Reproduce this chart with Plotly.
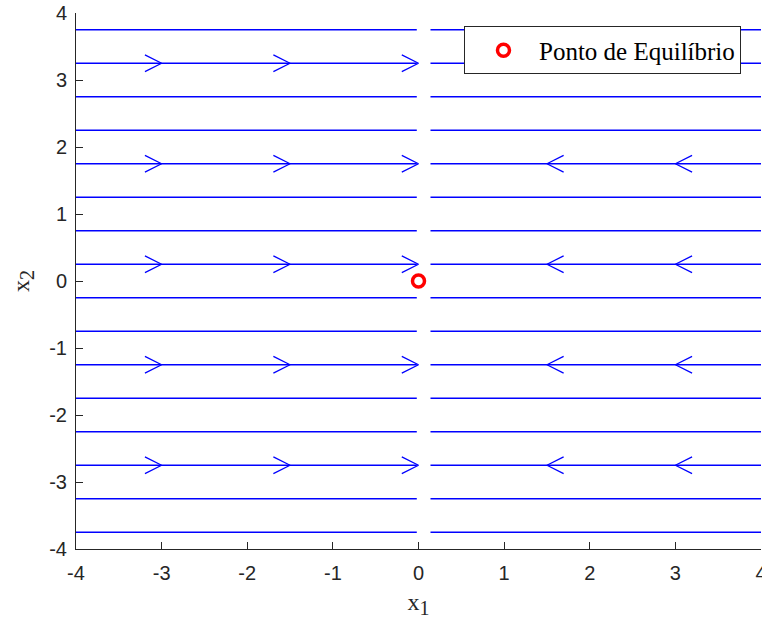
import plotly.graph_objects as go

# ---- data ----
stream_y = [-3.75, -3.25, -2.75, -2.25, -1.75, -1.25, -0.75, -0.25,
            0.25, 0.75, 1.25, 1.75, 2.25, 2.75, 3.25, 3.75]
left_x_range = [-4.0, -0.02]
right_x_range = [0.14, 4.0]
arrow_rows = [-2.75, -1.25, 0.25, 1.75, 3.25]
left_arrow_x = [-3.0, -1.5, 0.0]     # arrows pointing right
right_arrow_x = [1.5, 3.0]           # arrows pointing left
eq_x = [0]
eq_y = [0]
x_ticks = [-4, -3, -2, -1, 0, 1, 2, 3, 4]
y_ticks = [-4, -3, -2, -1, 0, 1, 2, 3, 4]

# ---- style ----
BLUE = "#0000ff"
AX = "#262626"
BARB_DX = 0.195
BARB_DY = 0.125
LW = 1.3

fig = go.Figure()

# streamlines
lx, ly = [], []
for y in stream_y:
    lx += [left_x_range[0], left_x_range[1], None, right_x_range[0], right_x_range[1], None]
    ly += [y, y, None, y, y, None]
fig.add_trace(go.Scatter(x=lx, y=ly, mode="lines", line=dict(color=BLUE, width=LW),
                         showlegend=False, hoverinfo="skip", cliponaxis=False))

# arrowheads
ax_, ay_ = [], []
for y in arrow_rows:
    for xt in left_arrow_x:
        ax_ += [xt - BARB_DX, xt, xt - BARB_DX, None]
        ay_ += [y + BARB_DY, y, y - BARB_DY, None]
    for xt in right_arrow_x:
        ax_ += [xt + BARB_DX, xt, xt + BARB_DX, None]
        ay_ += [y + BARB_DY, y, y - BARB_DY, None]
fig.add_trace(go.Scatter(x=ax_, y=ay_, mode="lines", line=dict(color=BLUE, width=LW),
                         showlegend=False, hoverinfo="skip"))

# equilibrium point
fig.add_trace(go.Scatter(x=eq_x, y=eq_y, mode="markers", name="Ponto de Equilíbrio",
                         marker=dict(symbol="circle-open", size=12, color="#ff0000",
                                     line=dict(width=3.5, color="#ff0000"))))

axis_common = dict(
    range=[-4, 4], showgrid=False, zeroline=False, showline=True, linecolor=AX,
    linewidth=1, ticks="inside", ticklen=7, tickcolor=AX, tickwidth=1,
    tickfont=dict(family="Liberation Sans, Arial", size=20, color=AX),
    mirror=False, automargin=False, ticklabeloverflow="allow",
)

title_font = dict(family="Liberation Serif, Times New Roman", size=24, color=AX)

fig.update_layout(
    width=762, height=624,
    margin=dict(l=76, r=1, t=13, b=75),
    plot_bgcolor="white", paper_bgcolor="white",
    xaxis=dict(**axis_common, tickvals=x_ticks, ticktext=[str(v) for v in x_ticks],
               ticklabelstandoff=6,
               title=dict(text='x<sub><span style="font-size:20px">1</span></sub>', standoff=10,
                          font=title_font)),
    yaxis=dict(**axis_common, tickvals=y_ticks, ticktext=[str(v) for v in y_ticks],
               ticklabelstandoff=4,
               title=dict(text='x<sub><span style="font-size:20px">2</span></sub>', standoff=12,
                          font=title_font)),
    legend=dict(x=0.5664, y=0.975, xanchor="left", yanchor="top",
                bgcolor="white", bordercolor=AX, borderwidth=1,
                indentation=3, itemwidth=61,
                font=dict(family="Liberation Serif, Times New Roman", size=25, color="black")),
    showlegend=True,
)

fig.write_html(
    "out.html",
    config={"displayModeBar": False},
    post_script="document.body.style.margin='0';document.body.style.overflow='hidden';",
)
